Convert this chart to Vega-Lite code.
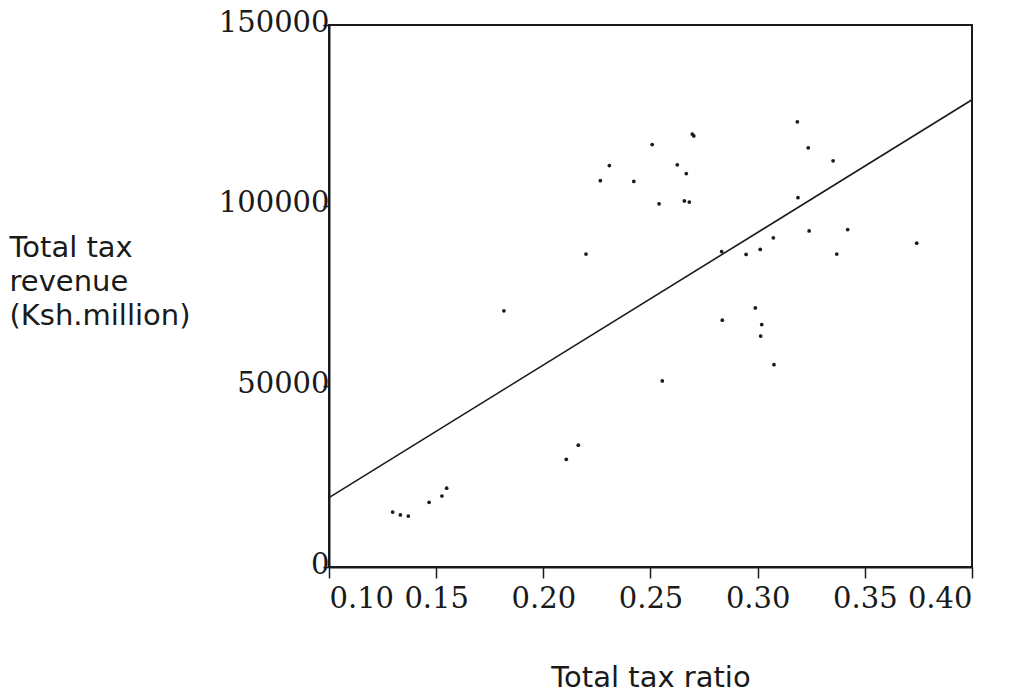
{
  "$schema": "https://vega.github.io/schema/vega-lite/v6.json",
  "autosize": {"type": "none"},
  "width": 643,
  "height": 542,
  "padding": {"left": 329, "top": 25, "right": 45, "bottom": 128},
  "background": "white",
  "config": {
    "view": {"stroke": "#1a1a1a", "strokeWidth": 2},
    "axis": {"grid": false, "domainColor": "#1a1a1a", "domainWidth": 2, "tickColor": "#1a1a1a", "tickWidth": 1.5, "labelColor": "#1a1a1a", "titleColor": "#1a1a1a", "labelFont": "DejaVu Serif", "labelFontSize": 29, "titleFont": "DejaVu Sans", "titleFontSize": 29, "titleFontWeight": "normal"}
  },
  "datasets": {
    "points": [
      {"ratio": 0.1297, "revenue": 15200},
      {"ratio": 0.1333, "revenue": 14400},
      {"ratio": 0.1370, "revenue": 14100},
      {"ratio": 0.1467, "revenue": 17900},
      {"ratio": 0.1527, "revenue": 19650},
      {"ratio": 0.1549, "revenue": 21800},
      {"ratio": 0.1816, "revenue": 70900},
      {"ratio": 0.2107, "revenue": 29800},
      {"ratio": 0.2163, "revenue": 33700},
      {"ratio": 0.2199, "revenue": 86600},
      {"ratio": 0.2266, "revenue": 106900},
      {"ratio": 0.2308, "revenue": 111100},
      {"ratio": 0.2422, "revenue": 106700},
      {"ratio": 0.2508, "revenue": 116900},
      {"ratio": 0.2540, "revenue": 100500},
      {"ratio": 0.2555, "revenue": 51500},
      {"ratio": 0.2625, "revenue": 111300},
      {"ratio": 0.2667, "revenue": 108900},
      {"ratio": 0.2658, "revenue": 101300},
      {"ratio": 0.2681, "revenue": 101000},
      {"ratio": 0.2695, "revenue": 119800},
      {"ratio": 0.2702, "revenue": 119300},
      {"ratio": 0.2832, "revenue": 87300},
      {"ratio": 0.2835, "revenue": 68300},
      {"ratio": 0.2946, "revenue": 86500},
      {"ratio": 0.3012, "revenue": 87900},
      {"ratio": 0.2989, "revenue": 71700},
      {"ratio": 0.3019, "revenue": 67100},
      {"ratio": 0.3014, "revenue": 63900},
      {"ratio": 0.3073, "revenue": 91100},
      {"ratio": 0.3076, "revenue": 56000},
      {"ratio": 0.3185, "revenue": 123200},
      {"ratio": 0.3188, "revenue": 102200},
      {"ratio": 0.3236, "revenue": 116000},
      {"ratio": 0.3240, "revenue": 93000},
      {"ratio": 0.3352, "revenue": 112400},
      {"ratio": 0.3369, "revenue": 86600},
      {"ratio": 0.3420, "revenue": 93400},
      {"ratio": 0.3742, "revenue": 89600}
    ],
    "fit": [
      {"ratio": 0.10, "revenue": 19200},
      {"ratio": 0.40, "revenue": 129300}
    ]
  },
  "layer": [
    {
      "data": {"name": "fit"},
      "mark": {"type": "line", "color": "#1a1a1a", "strokeWidth": 1.6},
      "encoding": {
        "x": {"field": "ratio", "type": "quantitative", "scale": {"domain": [0.10, 0.40], "nice": false, "zero": false},
          "axis": {"values": [0.10, 0.15, 0.20, 0.25, 0.30, 0.35, 0.40], "format": ".2f", "tickSize": 11, "labelPadding": 6, "title": "Total tax ratio", "titlePadding": 50}},
        "y": {"field": "revenue", "type": "quantitative", "scale": {"domain": [0, 150000], "nice": false, "zero": true},
          "axis": {"values": [0, 50000, 100000, 150000], "format": "d", "tickSize": 6, "labelPadding": -6, "labelOffset": -3,
            "title": ["Total tax", "revenue", "(Ksh.million)"], "titleAngle": 0, "titleAlign": "left", "titleBaseline": "alphabetic", "titleX": -320, "titleY": 231, "titleLineHeight": 34}}
      }
    },
    {
      "data": {"name": "points"},
      "mark": {"type": "circle", "color": "#1a1a1a", "size": 14, "opacity": 1},
      "encoding": {
        "x": {"field": "ratio", "type": "quantitative"},
        "y": {"field": "revenue", "type": "quantitative"}
      }
    }
  ]
}
